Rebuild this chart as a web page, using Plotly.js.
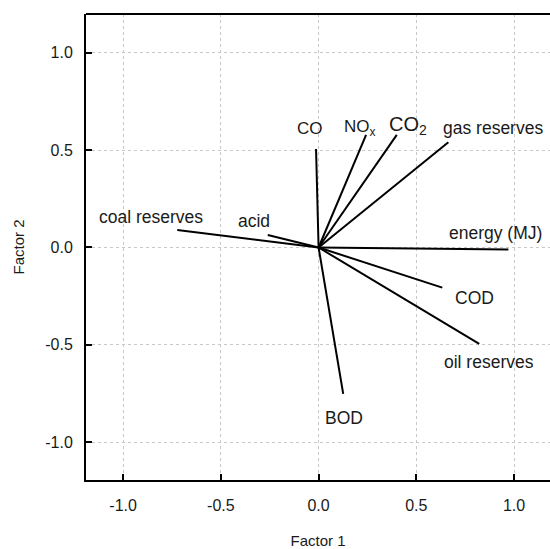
<!DOCTYPE html>
<html>
<head>
<meta charset="utf-8">
<script src="https://cdn.plot.ly/plotly-3.0.1.min.js"></script>
<style>
  html, body { margin: 0; padding: 0; background: #fff; overflow: hidden; }
  #chart { width: 550px; height: 549px; }
</style>
</head>
<body>
<div id="chart"></div>
<script>
// Variable names (loadings)
const variables = ["CO", "NO<sub>x</sub>", "CO<sub>2</sub>", "gas reserves", "energy (MJ)",
                   "COD", "oil reserves", "BOD", "coal reserves", "acid"];
// Factor 1 loadings
const factor1 = [-0.013, 0.243, 0.400, 0.664, 0.971, 0.633, 0.822, 0.126, -0.723, -0.260];
// Factor 2 loadings
const factor2 = [0.506, 0.578, 0.578, 0.540, -0.010, -0.206, -0.495, -0.752, 0.090, 0.064];

// Axis ticks
const tickValues = [-1.0, -0.5, 0.0, 0.5, 1.0];
const tickLabels = ["-1.0", "-0.5", "0.0", "0.5", "1.0"];

// Label placement (layout, in axis units) and sizes
const labelX = [-0.044, 0.212, 0.455, 0.892, 0.904, 0.800, 0.874, 0.132, -0.858, -0.331];
const labelY = [0.613, 0.612, 0.629, 0.613, 0.076, -0.258, -0.589, -0.874, 0.158, 0.138];
const labelSize = [17, 17, 20, 17.5, 17.5, 17.5, 17.5, 17.5, 17.5, 17.5];

const FONT = "Liberation Sans, Arial, Helvetica, sans-serif";

// Build vectors from origin
const lx = [], ly = [];
for (let i = 0; i < factor1.length; i++) {
  lx.push(0, factor1[i], null);
  ly.push(0, factor2[i], null);
}

const traces = [{
  type: "scatter",
  mode: "lines",
  x: lx,
  y: ly,
  line: { color: "#000", width: 2 },
  hoverinfo: "skip",
  showlegend: false
}];

const annotations = variables.map((v, i) => ({
  x: labelX[i], y: labelY[i], xref: "x", yref: "y",
  text: v, showarrow: false,
  xanchor: "center", yanchor: "middle",
  font: { family: FONT, size: labelSize[i], color: "#1a1a1a" }
}));

const axisCommon = {
  tickmode: "array",
  tickvals: tickValues,
  ticktext: tickLabels,
  ticks: "inside",
  ticklen: 6,
  tickwidth: 2,
  tickcolor: "#000",
  showline: true,
  linecolor: "#000",
  linewidth: 2,
  showgrid: true,
  gridcolor: "#c8c8c8",
  gridwidth: 1,
  griddash: "dot",
  zeroline: false,
  tickfont: { family: FONT, size: 16, color: "#1a1a1a" }
};

const layout = {
  width: 550,
  height: 549,
  margin: { l: 86, r: 0, t: 14, b: 69 },
  paper_bgcolor: "#fff",
  plot_bgcolor: "#fff",
  showlegend: false,
  xaxis: Object.assign({}, axisCommon, {
    range: [-1.190, 1.184],
    ticklabelstandoff: 10,
    title: { text: "Factor 1", font: { family: FONT, size: 15, color: "#1a1a1a" }, standoff: 22 }
  }),
  yaxis: Object.assign({}, axisCommon, {
    range: [-1.194, 1.199],
    ticklabelstandoff: 8,
    title: { text: "Factor 2", font: { family: FONT, size: 15, color: "#1a1a1a" }, standoff: 17 }
  }),
  shapes: [{
    type: "line", xref: "paper", yref: "paper",
    x0: 0, x1: 1, y0: 1, y1: 1,
    line: { color: "#000", width: 2 }
  }],
  annotations: annotations
};

Plotly.newPlot("chart", traces, layout, { staticPlot: true, displayModeBar: false });
</script>
</body>
</html>
